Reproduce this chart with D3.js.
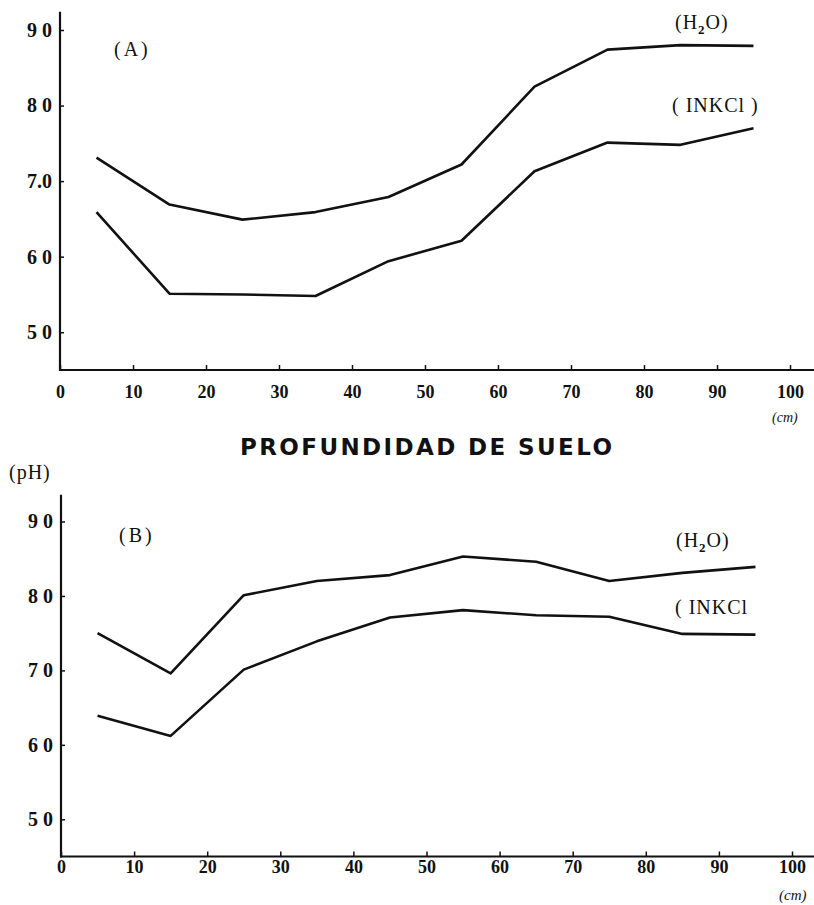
<!DOCTYPE html>
<html>
<head>
<meta charset="utf-8">
<script src="https://cdn.jsdelivr.net/npm/d3@7"></script>
<style>
  html, body { margin: 0; padding: 0; background: #fff; }
  svg { display: block; }
  .tick text { font-family: "Liberation Serif", "DejaVu Serif", serif; font-weight: bold; fill: #111; }
  .lbl { font-family: "Liberation Serif", "DejaVu Serif", serif; fill: #111; }
</style>
</head>
<body>
<svg id="chart" width="814" height="905"></svg>
<script>
// Soil depth (cm) at the middle of each 10 cm layer
const depths = [5, 15, 25, 35, 45, 55, 65, 75, 85, 95];

// Panel A: pH measured in water and in 1N KCl
const phWaterA = [7.31, 6.69, 6.49, 6.59, 6.79, 7.22, 8.25, 8.74, 8.8, 8.79];
const phKclA   = [6.59, 5.51, 5.50, 5.48, 5.94, 6.21, 7.13, 7.51, 7.48, 7.70];

// Panel B
const phWaterB = [7.50, 6.96, 8.01, 8.20, 8.28, 8.53, 8.46, 8.20, 8.31, 8.39];
const phKclB   = [6.39, 6.12, 7.01, 7.39, 7.71, 7.81, 7.74, 7.72, 7.49, 7.48];

// Tick values and labels
const xTicks = [0, 10, 20, 30, 40, 50, 60, 70, 80, 90, 100];
const yTicks = [5, 6, 7, 8, 9];
const yLabelsA = ["5 0", "6 0", "7.0", "8 0", "9 0"];
const yLabelsB = ["5 0", "6 0", "7 0", "8 0", "9 0"];

const svg = d3.select("#chart");

function panel(cfg) {
  const x = d3.scaleLinear().domain([0, 100]).range([cfg.x0, cfg.x100]);
  const y = d3.scaleLinear().domain([4.5, 9]).range([cfg.yBase, cfg.y9]);
  const g = svg.append("g");

  // x axis
  const xAxis = d3.axisBottom(x)
    .tickValues(xTicks)
    .tickSize(-5)
    .tickPadding(cfg.xPad)
    .tickFormat(d => String(d));
  const gx = g.append("g").attr("transform", `translate(0,${cfg.yBase})`).call(xAxis);
  gx.select(".domain").remove();
  gx.selectAll(".tick line").attr("stroke", "#111").attr("stroke-width", 1.5);
  gx.selectAll(".tick text").style("font-size", "18px");
  g.append("line")
    .attr("x1", x(0) - 1).attr("x2", 814)
    .attr("y1", cfg.yBase).attr("y2", cfg.yBase)
    .attr("stroke", "#111").attr("stroke-width", 2.2);

  // y axis
  const yAxis = d3.axisLeft(y)
    .tickValues(yTicks)
    .tickSize(-4)
    .tickPadding(8)
    .tickFormat((d, i) => cfg.yLabels[i]);
  const gy = g.append("g").attr("transform", `translate(${cfg.x0},0)`).call(yAxis);
  gy.select(".domain").remove();
  gy.selectAll(".tick line").attr("stroke", "#111").attr("stroke-width", 1.5);
  gy.selectAll(".tick text").style("font-size", "20px");
  g.append("line")
    .attr("x1", cfg.x0).attr("x2", cfg.x0)
    .attr("y1", y(cfg.yTop)).attr("y2", cfg.yBase + 1)
    .attr("stroke", "#111").attr("stroke-width", 2.2);

  // data lines
  const line = d3.line().x(d => x(d[0])).y(d => y(d[1]));
  [cfg.water, cfg.kcl].forEach(vals => {
    g.append("path")
      .datum(depths.map((d, i) => [d, vals[i]]))
      .attr("d", line)
      .attr("fill", "none")
      .attr("stroke", "#111")
      .attr("stroke-width", 2.6)
      .attr("stroke-linejoin", "round");
  });
  return { x, y, g };
}

const A = panel({
  x0: 60, x100: 790, yBase: 370, y9: 30, yTop: 9.24, xPad: 15,
  yLabels: yLabelsA, water: phWaterA, kcl: phKclA
});

const B = panel({
  x0: 61, x100: 792, yBase: 856.5, y9: 521.5, yTop: 9.36, xPad: 4,
  yLabels: yLabelsB, water: phWaterB, kcl: phKclB
});

// Series and panel labels
function label(g, txt, x, y, size, opts = {}) {
  const t = g.append("text").attr("class", "lbl").attr("x", x).attr("y", y)
    .attr("font-size", size).attr("letter-spacing", opts.ls || 0);
  if (opts.italic) t.attr("font-style", "italic");
  if (opts.bold) t.attr("font-weight", "bold");
  return t.text(txt);
}
function h2o(g, x, y, close) {
  const t = g.append("text").attr("class", "lbl").attr("x", x).attr("y", y)
    .attr("font-size", 20).attr("letter-spacing", 1);
  t.append("tspan").text("(H");
  t.append("tspan").attr("font-size", 13).attr("dy", 5).attr("font-weight", "bold").text("2");
  t.append("tspan").attr("dy", -5).text("O" + close);
}

label(A.g, "(A)", 114, 56, 20, { ls: 3 });
h2o(A.g, 675, 29, ")");
label(A.g, "( INKCl )", 672, 112, 20, { ls: 1 });
label(A.g, "(cm)", 772, 422, 14, { italic: true });

label(B.g, "(B)", 119, 542, 20, { ls: 3 });
h2o(B.g, 676, 547, ")");
label(B.g, "( INKCl", 675, 614, 20, { ls: 1 });
label(B.g, "(cm)", 779, 900, 15, { italic: true });
label(B.g, "(pH)", 9, 479, 20, { ls: 1 });

// Shared axis title between the two panels
svg.append("text")
  .attr("x", 240).attr("y", 455)
  .attr("font-family", "'DejaVu Sans', sans-serif")
  .attr("font-weight", "bold")
  .attr("font-size", 23)
  .attr("textLength", 372)
  .attr("lengthAdjust", "spacing")
  .attr("fill", "#111")
  .text("PROFUNDIDAD DE SUELO");
</script>
</body>
</html>
